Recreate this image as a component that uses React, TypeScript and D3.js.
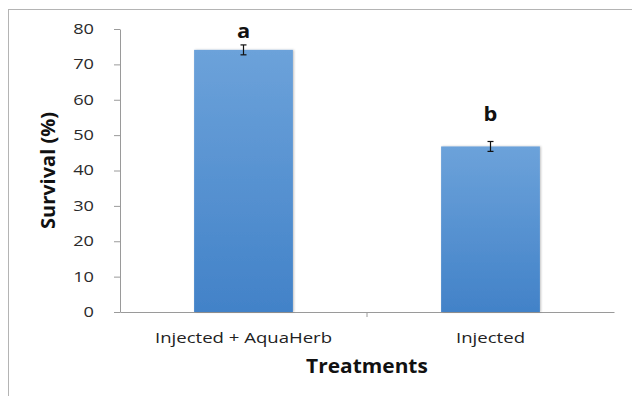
import * as d3 from "d3";
import { useEffect, useRef } from "react";

const treatments = ["Injected + AquaHerb", "Injected"];
const survival = [74.1, 46.8];
const errors = [1.4, 1.4];
const letters = ["a", "b"];
const yTicks = [0, 10, 20, 30, 40, 50, 60, 70, 80];

const width = 632;
const height = 396;
const marginTop = 29;
const marginRight = 18;
const marginBottom = 84;
const marginLeft = 120;
// how far each letter sits above its error bar
const letterLift = [7, 20];
const font = "'Open Sans', sans-serif";

// the reference text is a little wider than the font, stretch it
const stretch = (sel: d3.Selection<any, any, any, any>, factor: number) =>
    sel.each(function () {
        const node = this as SVGTextElement;
        const w = node.getComputedTextLength();
        d3.select(node)
            .attr("textLength", w * factor)
            .attr("lengthAdjust", "spacingAndGlyphs");
    });

const App = () => {
    const ref = useRef<SVGSVGElement>(null);

    useEffect(() => {
        const svg = d3.select(ref.current);
        svg.selectAll("*").remove();

        const x = d3.scaleBand()
            .domain(treatments)
            .range([marginLeft, width - marginRight])
            .paddingInner(0)
            .paddingOuter(0);

        const y = d3.scaleLinear()
            .domain([0, 80])
            .range([height - marginBottom, marginTop]);

        const barWidth = x.bandwidth() * 0.4;

        const defs = svg.append("defs");
        const grad = defs.append("linearGradient")
            .attr("id", "barGrad")
            .attr("x1", 0).attr("y1", 0)
            .attr("x2", 0).attr("y2", 1);
        grad.append("stop").attr("offset", "0%").attr("stop-color", "#6ca2da");
        grad.append("stop").attr("offset", "100%").attr("stop-color", "#4282c8");

        const shadow = defs.append("filter").attr("id", "shadow")
            .attr("x", "-10%").attr("y", "-10%").attr("width", "120%").attr("height", "120%");
        shadow.append("feDropShadow")
            .attr("dx", 1).attr("dy", 0).attr("stdDeviation", 1.2)
            .attr("flood-color", "#000").attr("flood-opacity", 0.25);

        // outer frame
        svg.append("rect")
            .attr("x", 8.5).attr("y", 9.5)
            .attr("width", 640).attr("height", 400)
            .attr("fill", "none")
            .attr("stroke", "#b4b4b4");

        // y axis
        const yAxis = svg.append("g")
            .attr("transform", `translate(${marginLeft},0)`)
            .call(d3.axisLeft(y).tickValues(yTicks).tickSize(6).tickPadding(20).tickSizeOuter(0));
        yAxis.selectAll("path, line").attr("stroke", "#9a9a9a");
        const yLabels = yAxis.selectAll<SVGTextElement, number>("text")
            .attr("font-family", font)
            .attr("font-size", 14)
            .attr("font-weight", 500)
            .attr("fill", "#2a2a2a");
        stretch(yLabels, 1.3);

        // x axis
        const xAxis = svg.append("g")
            .attr("transform", `translate(0,${height - marginBottom})`)
            .call(d3.axisBottom(x).tickSize(0).tickPadding(21).tickSizeOuter(0));
        xAxis.select(".domain").attr("stroke", "#9a9a9a");
        const xLabels = xAxis.selectAll<SVGTextElement, string>("text")
            .attr("font-family", font)
            .attr("font-size", 14.5)
            .attr("fill", "#222");
        stretch(xLabels, 1.28);
        // category separator
        xAxis.selectAll(".sep")
            .data(x.domain().slice(1))
            .join("line")
            .attr("x1", (d) => x(d) || 0)
            .attr("x2", (d) => x(d) || 0)
            .attr("y1", 0)
            .attr("y2", 5)
            .attr("stroke", "#9a9a9a");

        // bars
        svg.append("g")
            .selectAll("rect")
            .data(treatments)
            .join("rect")
            .attr("x", (d) => (x(d) || 0) + (x.bandwidth() - barWidth) / 2)
            .attr("y", (_, i) => y(survival[i]))
            .attr("width", barWidth)
            .attr("height", (_, i) => y(0) - y(survival[i]))
            .attr("fill", "url(#barGrad)")
            .attr("filter", "url(#shadow)");

        // error bars
        const eb = svg.append("g").attr("stroke", "#111").attr("stroke-width", 1.2);
        treatments.forEach((d, i) => {
            const cx = (x(d) || 0) + x.bandwidth() / 2;
            const top = y(survival[i] + errors[i]);
            const bot = y(survival[i] - errors[i]);
            eb.append("line").attr("x1", cx).attr("x2", cx).attr("y1", top).attr("y2", bot);
            eb.append("line").attr("x1", cx - 3).attr("x2", cx + 3).attr("y1", top).attr("y2", top);
            eb.append("line").attr("x1", cx - 3).attr("x2", cx + 3).attr("y1", bot).attr("y2", bot);
        });

        // significance letters
        const letterText = svg.append("g")
            .selectAll<SVGTextElement, string>("text")
            .data(letters)
            .join("text")
            .attr("x", (_, i) => (x(treatments[i]) || 0) + x.bandwidth() / 2)
            .attr("y", (_, i) => y(survival[i] + errors[i]) - letterLift[i])
            .attr("text-anchor", "middle")
            .attr("font-family", font)
            .attr("font-weight", "bold")
            .attr("font-size", 19)
            .attr("fill", "#111")
            .text((d) => d);
        stretch(letterText, 1.15);

        // axis titles
        const yTitle = svg.append("text")
            .attr("transform", `translate(55,${(marginTop + height - marginBottom) / 2}) rotate(-90)`)
            .attr("text-anchor", "middle")
            .attr("font-family", font)
            .attr("font-weight", "bold")
            .attr("font-size", 20)
            .attr("fill", "#111")
            .text("Survival (%)");
        stretch(yTitle, 1.0);

        const xTitle = svg.append("text")
            .attr("x", (marginLeft + width - marginRight) / 2)
            .attr("y", 373)
            .attr("text-anchor", "middle")
            .attr("font-family", font)
            .attr("font-weight", "bold")
            .attr("font-size", 19)
            .attr("fill", "#111")
            .text("Treatments");
        stretch(xTitle, 1.1);
    }, []);

    return (
        <svg
            ref={ref}
            width={width}
            height={height}
            style={{ position: "absolute", left: 0, top: 0, background: "#fff" }}
        />
    );
};

export default App;
